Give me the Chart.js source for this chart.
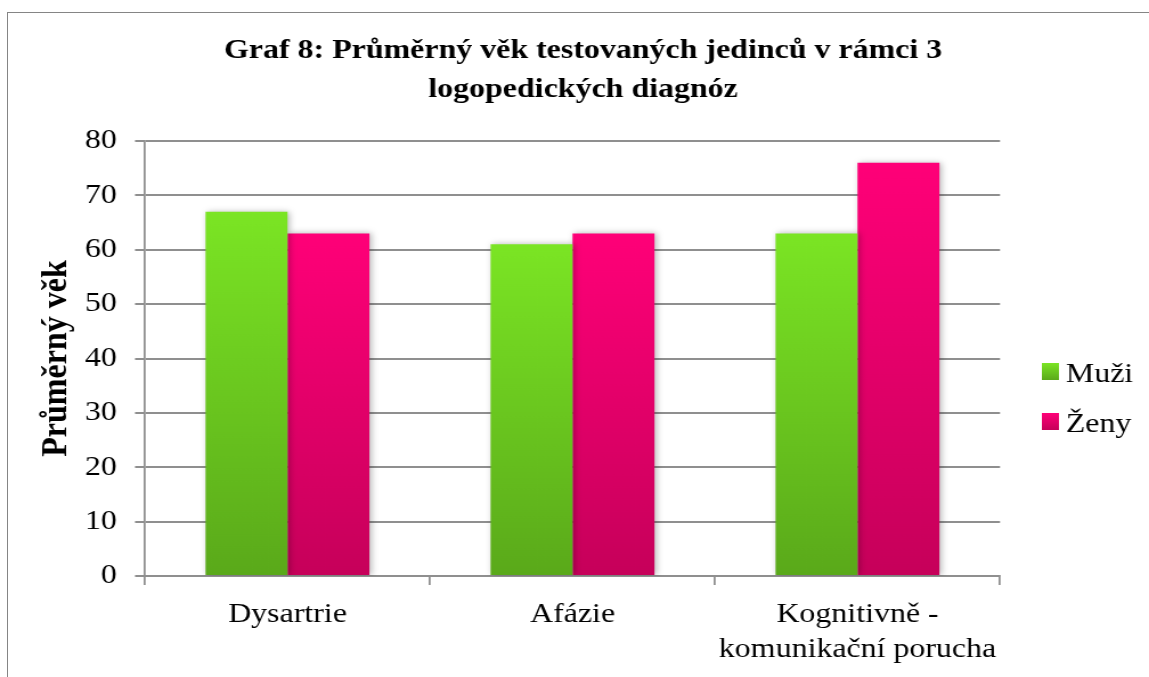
<!DOCTYPE html>
<html>
<head>
<meta charset="utf-8">
<script src="https://cdn.jsdelivr.net/npm/chart.js@4.4.1/dist/chart.umd.min.js"></script>
<style>
  html, body { margin: 0; padding: 0; background: #fff; overflow: hidden; }
  #frame { position: absolute; left: 7px; top: 12px; width: 1200px; height: 800px; border: 1px solid #858585; }
  /* písmo v originálu je vodorovně roztažené, proto celé plátno natáhneme */
  #wrap { position: absolute; left: 0; top: 0; width: 1008px; height: 677px; transform: scaleX(1.1399); transform-origin: 0 0; }
</style>
</head>
<body>
<div id="frame"></div>
<div id="wrap"><canvas id="chart" width="1008" height="677"></canvas></div>
<script>
// data
const titleLines = ['Graf 8: Průměrný věk testovaných jedinců v rámci 3', 'logopedických diagnóz'];
const categories = ['Dysartrie', 'Afázie', ['Kognitivně -', 'komunikační porucha']];
const seriesNames = ['Muži', 'Ženy'];
const muzi = [67, 61, 63];
const zeny = [63, 63, 76];
const yAxisTitle = 'Průměrný věk';
const yMin = 0, yMax = 80, yStep = 10;

const FONT = "'Liberation Serif', 'Times New Roman', serif";
const GRID = '#8f8f8f';
const green = { top: '#7be524', bottom: '#5aa91a' };
const pink = { top: '#ff0078', bottom: '#c6005a' };

// svislý gradient pro každý sloupec zvlášť
const barFill = (colors) => (context) => {
    const chart = context.chart;
    const y = chart.scales.y;
    if (!chart.chartArea || !y || context.raw == null) return colors.top;
    const top = y.getPixelForValue(context.raw);
    const bottom = y.getPixelForValue(0);
    const g = chart.ctx.createLinearGradient(0, top, 0, bottom);
    g.addColorStop(0, colors.top);
    g.addColorStop(1, colors.bottom);
    return g;
};

const barShadow = {
    id: 'barShadow',
    beforeDatasetsDraw(chart) {
        const ctx = chart.ctx;
        ctx.save();
        ctx.shadowColor = 'rgba(0,0,0,0.28)';
        ctx.shadowBlur = 6;
        ctx.shadowOffsetX = 1.75;
        ctx.shadowOffsetY = 0;
    },
    afterDatasetsDraw(chart) {
        chart.ctx.restore();
    }
};

// legenda vpravo
const sideLegend = {
    id: 'sideLegend',
    afterDraw(chart) {
        const ctx = chart.ctx;
        const fills = [green, pink];
        const baselines = [382, 432];
        ctx.save();
        ctx.font = `28px ${FONT}`;
        ctx.textBaseline = 'alphabetic';
        chart.data.datasets.forEach((ds, i) => {
            const bx = 914, by = baselines[i] - 19, w = 15, h = 17;
            const g = ctx.createLinearGradient(0, by, 0, by + h);
            g.addColorStop(0, fills[i].top);
            g.addColorStop(1, fills[i].bottom);
            ctx.fillStyle = g;
            ctx.fillRect(bx, by, w, h);
            ctx.fillStyle = '#000';
            ctx.fillText(ds.label, 935, baselines[i]);
        });
        ctx.restore();
    }
};

new Chart(document.getElementById('chart'), {
    type: 'bar',
    data: {
        labels: categories,
        datasets: [
            { label: seriesNames[0], data: muzi, backgroundColor: barFill(green) },
            { label: seriesNames[1], data: zeny, backgroundColor: barFill(pink) }
        ]
    },
    options: {
        responsive: false,
        devicePixelRatio: 1,
        animation: false,
        categoryPercentage: 0.575,
        barPercentage: 1,
        layout: { padding: { left: 15, right: 0, top: 20, bottom: 0 } },
        plugins: {
            legend: { display: false },
            tooltip: { enabled: false },
            title: {
                display: true,
                text: titleLines,
                color: '#000',
                font: { family: FONT, size: 28, weight: 'bold', lineHeight: '38.5px' },
                padding: { top: 12, bottom: 32 }
            }
        },
        scales: {
            x: {
                grid: { display: true, drawOnChartArea: false, drawTicks: true, tickLength: 9, color: GRID, lineWidth: 1.75, offset: true },
                border: { display: true, color: GRID, width: 2 },
                ticks: { color: '#000', font: { family: FONT, size: 28, lineHeight: 1.25 }, padding: 12, maxRotation: 0, autoSkip: false },
                afterFit: (s) => { s.height = 101; }
            },
            y: {
                min: yMin,
                max: yMax,
                ticks: { stepSize: yStep, color: '#000', font: { family: FONT, size: 28 }, padding: 15.8 },
                grid: { color: GRID, lineWidth: 2, tickLength: 8.8, drawTicks: true },
                border: { display: true, color: GRID, width: 1.75 },
                title: {
                    display: true,
                    text: yAxisTitle,
                    color: '#000',
                    font: { family: FONT, size: 32, weight: 'bold', lineHeight: 1.2 },
                    padding: { top: 15.8, bottom: 0 }
                },
                afterFit: (s) => { s.width = 112.2; }
            },
            // prázdné místo pro legendu vpravo
            side: {
                position: 'right',
                display: true,
                ticks: { display: false },
                grid: { display: false },
                border: { display: false },
                afterFit: (s) => { s.width = 130.7; }
            }
        }
    },
    plugins: [barShadow, sideLegend]
});
</script>
</body>
</html>
